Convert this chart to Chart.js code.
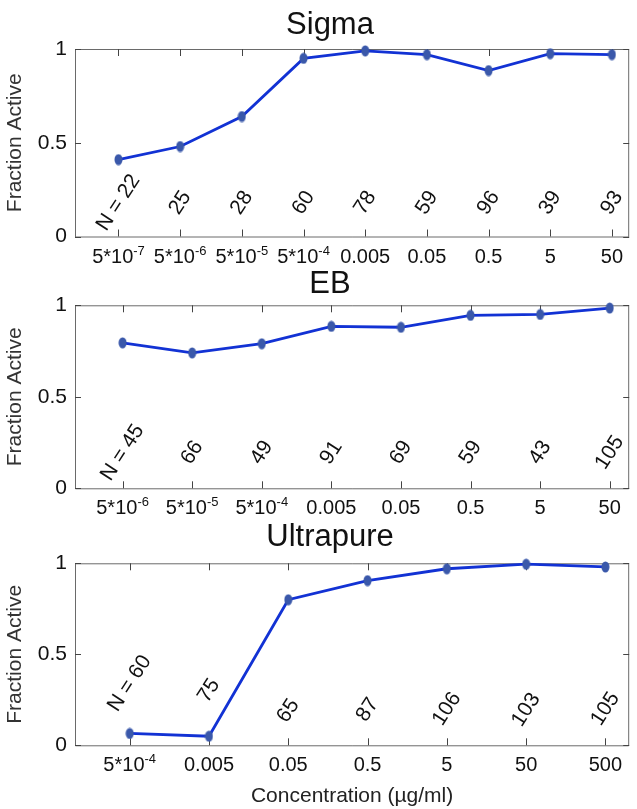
<!DOCTYPE html>
<html>
<head>
<meta charset="utf-8">
<script src="https://cdn.jsdelivr.net/npm/chart.js@4.4.1/dist/chart.umd.min.js"></script>
<style>
  html,body{margin:0;padding:0;background:#fff;overflow:hidden;}
  #wrap{position:relative;width:637px;height:809px;}
  canvas{position:absolute;left:0;}
</style>
</head>
<body>
<div id="wrap">
  <canvas id="c-sigma" width="637" height="270" style="top:0"></canvas>
  <canvas id="c-eb" width="637" height="250" style="top:270px"></canvas>
  <canvas id="c-up" width="637" height="289" style="top:520px"></canvas>
</div>
<script>
// ── DATA ──  (tick text uses ^ for the exponent part)
const sigmaConc = ['5*10^-7','5*10^-6','5*10^-5','5*10^-4','0.005','0.05','0.5','5','50'];
const sigmaFrac = [0.41, 0.48, 0.64, 0.95, 0.99, 0.97, 0.885, 0.975, 0.97];
const sigmaN    = ['N = 22','25','28','60','78','59','96','39','93'];

const ebConc = ['5*10^-6','5*10^-5','5*10^-4','0.005','0.05','0.5','5','50'];
const ebFrac = [0.795, 0.74, 0.79, 0.885, 0.88, 0.945, 0.95, 0.985];
const ebN    = ['N = 45','66','49','91','69','59','43','105'];

const upConc = ['5*10^-4','0.005','0.05','0.5','5','50','500'];
const upFrac = [0.065, 0.05, 0.80, 0.905, 0.97, 0.995, 0.98];
const upN    = ['N = 60','75','65','87','106','103','105'];

const yTicks = [0, 0.5, 1];
const yTickText = ['0', '0.5', '1'];

// ── STYLE ──
const FONT = "'Liberation Sans', Arial, Helvetica, sans-serif";
const LINE = '#1232d4';
const DOT = '#3a58aa';

function dotCanvas(){
  const c = document.createElement('canvas');
  c.width = 9; c.height = 12;
  const g = c.getContext('2d');
  g.fillStyle = DOT;
  g.beginPath(); g.ellipse(4.5, 6, 4, 5.5, 0, 0, Math.PI*2); g.fill();
  return c;
}
const dot = dotCanvas();

// box, inward ticks, x tick labels with superscripts, title, N labels
const panelDeco = {
  id:'panelDeco',
  beforeDatasetsDraw(chart, args, o){
    const {ctx, chartArea:a, scales:{x, y}} = chart;
    ctx.save();
    ctx.strokeStyle = '#6a6a6a'; ctx.lineWidth = 1;
    ctx.beginPath();
    ctx.moveTo(a.left+0.5, a.top+0.5); ctx.lineTo(a.right-0.5, a.top+0.5);
    ctx.lineTo(a.right-0.5, a.bottom+0.5); ctx.lineTo(a.left+0.5, a.bottom+0.5);
    ctx.closePath(); ctx.stroke();
    ctx.strokeStyle = '#444';
    ctx.beginPath();
    x.ticks.forEach(t=>{
      const px = Math.round(x.getPixelForValue(t.value)) + 0.5;
      ctx.moveTo(px, a.bottom); ctx.lineTo(px, a.bottom-7);
      ctx.moveTo(px, a.top); ctx.lineTo(px, a.top+7);
    });
    y.ticks.forEach(t=>{
      const py = Math.round(y.getPixelForValue(t.value)) + 0.5;
      ctx.moveTo(a.left, py); ctx.lineTo(a.left+6, py);
      ctx.moveTo(a.right, py); ctx.lineTo(a.right-6, py);
    });
    ctx.stroke();

    // x tick labels
    ctx.fillStyle = '#111';
    ctx.textBaseline = 'alphabetic'; ctx.textAlign = 'left';
    const base = a.bottom + 26;
    o.conc.forEach((s, i)=>{
      const [b, e] = s.split('^');
      ctx.font = '20px ' + FONT;
      const wb = ctx.measureText(b).width;
      ctx.font = '13px ' + FONT;
      const we = e ? ctx.measureText(e).width : 0;
      const left = x.getPixelForValue(i) - (wb + we)/2;
      ctx.font = '20px ' + FONT;
      ctx.fillText(b, left, base);
      if(e){ ctx.font = '13px ' + FONT; ctx.fillText(e, left + wb, base - 8); }
    });
    ctx.restore();
  },
  afterDatasetsDraw(chart, args, o){
    const {ctx, scales:{x, y}} = chart;
    ctx.save();
    ctx.fillStyle = '#111';
    ctx.font = '31px ' + FONT;
    ctx.textAlign = 'center'; ctx.textBaseline = 'alphabetic';
    ctx.fillText(o.title, o.titleX, o.titleY);
    ctx.font = '21px ' + FONT;
    ctx.textBaseline = 'middle';
    o.counts.forEach((s, i)=>{
      ctx.save();
      ctx.translate(x.getPixelForValue(i), y.getPixelForValue(o.countY[i]));
      ctx.rotate(-57*Math.PI/180);
      ctx.fillText(s, 0, 0);
      ctx.restore();
    });
    ctx.restore();
  }
};

function makePanel(id, conc, frac, counts, cfg){
  const n = conc.length;
  return new Chart(document.getElementById(id), {
    type:'line',
    data:{datasets:[{
      data: frac.map((v,i)=>({x:i, y:v})),
      borderColor: LINE, borderWidth: 2.8, tension: 0,
      pointStyle: dot, pointRadius: 5, clip: false
    }]},
    options:{
      responsive:false, animation:false, devicePixelRatio:1,
      layout:{padding:{top:cfg.top, right:0, left:0, bottom:0}},
      plugins:{
        legend:{display:false}, tooltip:{enabled:false},
        panelDeco:{title:cfg.title, titleX:330, titleY:cfg.titleY, counts:counts, countY:cfg.countY, conc:conc}
      },
      scales:{
        x:{
          type:'linear', min:cfg.xmin, max:n-1+cfg.xpad,
          grid:{display:false, drawTicks:false}, border:{display:false},
          afterBuildTicks:s=>{ s.ticks = conc.map((_,i)=>({value:i})); },
          afterFit:s=>{ s.height = cfg.xh; },
          ticks:{display:false},
          title:{display:!!cfg.xtitle, text:cfg.xtitle || '', color:'#222', font:{family:FONT, size:21}, padding:{top:0, bottom:0}}
        },
        y:{
          min:0, max:1,
          grid:{display:false, drawTicks:false}, border:{display:false},
          afterBuildTicks:s=>{ s.ticks = yTicks.map(v=>({value:v})); },
          afterFit:s=>{ s.width = 75; },
          ticks:{callback:(v,i)=>yTickText[i], color:'#111', font:{family:FONT, size:21}, padding:8},
          title:{display:true, text:'Fraction Active', color:'#333', font:{family:FONT, size:21}, padding:{top:3, bottom:0}}
        }
      }
    },
    plugins:[panelDeco]
  });
}

makePanel('c-sigma', sigmaConc, sigmaFrac, sigmaN,
  {title:'Sigma', titleY:34, top:49, xh:33.5, xmin:-0.705, xpad:0.28, countY:sigmaN.map(()=>0.18)});
makePanel('c-eb', ebConc, ebFrac, ebN,
  {title:'EB', titleY:23, top:35.3, xh:31.7, xmin:-0.684, xpad:0.28, countY:ebN.map(()=>0.195)});
makePanel('c-up', upConc, upFrac, upN,
  {title:'Ultrapure', titleY:26, top:43.3, xh:63.7, xmin:-0.69, xpad:0.30,
   countY:[0.34, 0.30, 0.19, 0.195, 0.2, 0.195, 0.2], xtitle:'Concentration (µg/ml)'});
</script>
</body>
</html>
